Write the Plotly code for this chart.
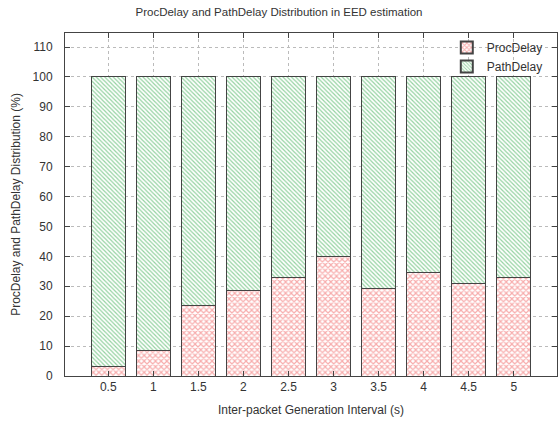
import plotly.graph_objects as go

categories = ["0.5", "1", "1.5", "2", "2.5", "3", "3.5", "4", "4.5", "5"]
proc_delay = [3.3, 8.5, 23.6, 28.7, 32.9, 40.1, 29.4, 34.6, 31.1, 33.1]
path_delay = [100 - v for v in proc_delay]
yticks = list(range(0, 111, 10))

FONT = "Liberation Sans"

fig = go.Figure()
fig.add_trace(go.Bar(
    x=categories, y=proc_delay, name="ProcDelay", width=0.755,
    marker=dict(color="white", line=dict(color="#444444", width=1),
                pattern=dict(shape="x", fgcolor="#f05a5a", bgcolor="white", size=4, solidity=0.5)),
))
fig.add_trace(go.Bar(
    x=categories, y=path_delay, name="PathDelay", width=0.755,
    marker=dict(color="white", line=dict(color="#444444", width=1),
                pattern=dict(shape="\\", fgcolor="#2aa544", bgcolor="white", size=3, solidity=0.4)),
))

fig.update_layout(
    barmode="stack",
    width=558, height=423,
    margin=dict(l=65, r=1, t=33, b=47, autoexpand=False),
    paper_bgcolor="white", plot_bgcolor="white",
    font=dict(family=FONT, size=12, color="#333333"),
    title=dict(text="ProcDelay and PathDelay Distribution in EED estimation",
               x=0.5, xanchor="center", y=0.972, yanchor="middle",
               font=dict(size=11.5, color="#333333"), automargin=False),
    showlegend=True,
    legend=dict(x=0.776, y=1.0, xanchor="left", yanchor="top",
                bgcolor="rgba(255,255,255,0)", traceorder="normal",
                font=dict(size=12), tracegroupgap=0, itemsizing="constant"),
    xaxis=dict(type="category", range=[-0.96, 9.96], showgrid=True, automargin=False,
               gridcolor="#bbbbbb", griddash="dot", gridwidth=1,
               ticks="inside", ticklen=5, tickcolor="#444444",
               showline=True, linecolor="#444444", linewidth=1, mirror="allticks",
               title=dict(text="Inter-packet Generation Interval (s)", standoff=12,
                          font=dict(size=12)),
               tickfont=dict(size=12)),
    yaxis=dict(range=[0, 114.7], tickvals=yticks, showgrid=True, automargin=False,
               gridcolor="#bbbbbb", griddash="dot", gridwidth=1,
               ticks="inside", ticklen=5, tickcolor="#444444",
               showline=True, linecolor="#444444", linewidth=1, mirror="allticks",
               zeroline=False, ticklabelstandoff=9,
               title=dict(text="ProcDelay and PathDelay Distribution (%)", standoff=9,
                          font=dict(size=12)),
               tickfont=dict(size=12)),
)

fig.write_html("out.html", post_script="document.body.style.margin='0';",
               config={"displayModeBar": False})
